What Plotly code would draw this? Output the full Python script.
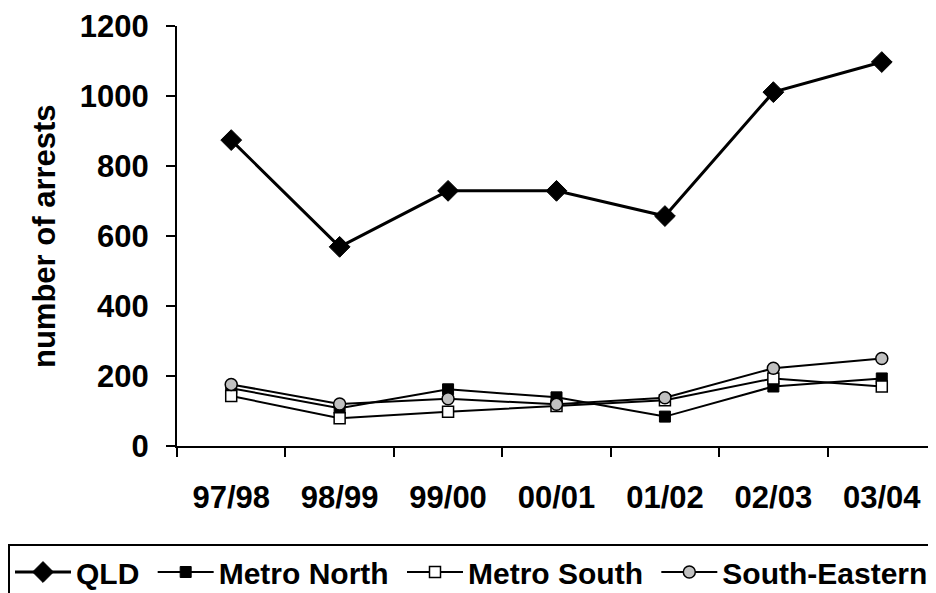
import plotly.graph_objects as go

years = ["97/98", "98/99", "99/00", "00/01", "01/02", "02/03", "03/04"]
qld = [874, 569, 729, 729, 657, 1011, 1097]
metro_north = [165, 108, 162, 139, 84, 170, 193]
metro_south = [143, 79, 98, 114, 131, 193, 170]
south_eastern = [176, 120, 135, 119, 138, 222, 250]
y_ticks = [0, 200, 400, 600, 800, 1000, 1200]
series_names = ["QLD", "Metro North", "Metro South", "South-Eastern"]

FONT = "Arial, 'Liberation Sans', sans-serif"
PAD = "\u00a0"  # a little extra spacing between legend entries

# page body has an 8px margin, so the plot area is laid out relative to it
L, R, T, B = 169, 0, 18, 155
PW = 936 - L - R
PH = 593 - T - B
AXIS_W = 759  # visible width of the x axis in px

fig = go.Figure()
fig.add_trace(go.Scatter(
    x=years, y=qld, name=series_names[0] + PAD, mode="lines+markers",
    line=dict(color="black", width=3),
    marker=dict(symbol="diamond", size=16, color="black", line=dict(color="black", width=1)),
))
fig.add_trace(go.Scatter(
    x=years, y=metro_north, name=series_names[1] + PAD, mode="lines+markers",
    line=dict(color="black", width=2),
    marker=dict(symbol="square", size=11, color="black", line=dict(color="black", width=1)),
))
fig.add_trace(go.Scatter(
    x=years, y=metro_south, name=series_names[2] + PAD, mode="lines+markers",
    line=dict(color="black", width=2),
    marker=dict(symbol="square", size=11, color="white", line=dict(color="black", width=1.5)),
))
fig.add_trace(go.Scatter(
    x=years, y=south_eastern, name=series_names[3], mode="lines+markers",
    line=dict(color="black", width=2),
    marker=dict(symbol="circle", size=12, color="#c0c0c0", line=dict(color="black", width=1.5)),
))

fig.update_layout(
    width=936, height=593,
    margin=dict(l=L, r=R, t=T, b=B, autoexpand=False),
    paper_bgcolor="white", plot_bgcolor="white",
    font=dict(family=FONT, color="black"),
    showlegend=True,
    legend=dict(
        orientation="h", xref="paper", yref="paper",
        x=-L / PW, y=(PH - (544 - 8 - T)) / PH, xanchor="left", yanchor="top",
        bordercolor="black", borderwidth=2, bgcolor="white",
        font=dict(size=30, family=FONT, color="black", weight="bold"),
        itemwidth=56,
    ),
    xaxis=dict(
        type="category", range=[-0.5, 6.5], automargin=False,
        domain=[0, AXIS_W / PW],
        showline=True, linecolor="black", linewidth=2,
        ticks="outside", tickson="boundaries", ticklen=9, tickwidth=2, tickcolor="black",
        showgrid=False, zeroline=False,
        tickfont=dict(size=31, family=FONT, color="black", weight="bold"),
        ticklabelstandoff=23,
    ),
    yaxis=dict(
        range=[0, 1200], tickvals=y_ticks, automargin=False,
        showline=True, linecolor="black", linewidth=2,
        ticks="outside", ticklen=9, tickwidth=2, tickcolor="black",
        showgrid=False, zeroline=False,
        tickfont=dict(size=31, family=FONT, color="black", weight="bold"),
        ticklabelstandoff=11,
    ),
    annotations=[dict(
        text="number of arrests", xref="paper", yref="paper",
        x=(44 - 8 - L) / PW, y=0.5, xanchor="center", yanchor="middle",
        textangle=-90, showarrow=False,
        font=dict(size=31, family=FONT, color="black", weight="bold"),
    )],
)

fig.write_html("out.html")
